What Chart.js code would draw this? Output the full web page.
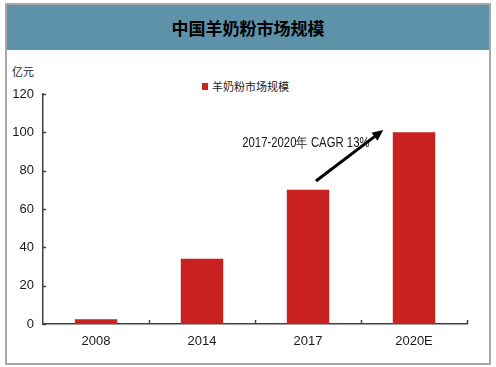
<!DOCTYPE html>
<html><head><meta charset="utf-8">
<script src="https://cdn.jsdelivr.net/npm/chart.js@4/dist/chart.umd.min.js"></script>
<style>
html,body{margin:0;padding:0;background:#fff;}
#wrap{position:relative;width:496px;height:367px;overflow:hidden;}
#frame{position:absolute;left:5px;top:3px;width:482px;height:358px;border:2px solid #A8A8A8;box-sizing:content-box;}
#titlebar{position:absolute;left:7px;top:5px;width:482px;height:45px;background:#5D92A9;display:flex;align-items:center;justify-content:center;font:bold 17px "Noto Sans CJK SC";color:#000;}
#unit{position:absolute;left:12px;top:63px;font:11px "Noto Sans CJK SC";color:#222;}
#legend{position:absolute;left:202px;top:78px;font:11px "Noto Sans CJK SC";color:#222;display:flex;align-items:center;}
#legend span.sw{display:inline-block;width:6px;height:7px;background:#C8211F;margin-right:4px;}
canvas{position:absolute;left:0;top:0;}
</style>
</head><body>
<div id="wrap">
<div id="frame"></div>
<div id="titlebar">中国羊奶粉市场规模</div>
<div id="unit">亿元</div>
<div id="legend"><span class="sw"></span>羊奶粉市场规模</div>
<canvas id="c" width="496" height="367"></canvas>
</div>
<script>
const categories = ['2008', '2014', '2017', '2020E'];
const marketSize = [2.5, 34, 70, 100];
const seriesName = '羊奶粉市场规模';
const annotationText = '2017-2020年 CAGR 13%';
const arrowFrom = [2.075, 74.6];
const arrowTo = [2.71, 101.2];
const annotationPos = [1.98, 94.5];

const FONT = '"Liberation Sans", Arial, sans-serif';

const decor = {
  id: 'decor',
  afterDatasetsDraw(chart) {
    const ctx = chart.ctx, x = chart.scales.x, y = chart.scales.y;
    const area = chart.chartArea;
    ctx.save();
    ctx.strokeStyle = '#404040';
    ctx.lineWidth = 1.5;
    y.ticks.forEach((t, i) => {
      const py = Math.round(y.getPixelForTick(i)) + 0.5;
      ctx.beginPath(); ctx.moveTo(area.left, py); ctx.lineTo(area.left + 3, py); ctx.stroke();
    });
    for (let i = 0; i < categories.length; i++) {
      const px = Math.round(x.getPixelForValue(i + 0.5)) + 0.5;
      ctx.beginPath(); ctx.moveTo(px, area.bottom); ctx.lineTo(px, area.bottom - 4); ctx.stroke();
    }
    const x1 = x.getPixelForValue(arrowFrom[0]), y1 = y.getPixelForValue(arrowFrom[1]);
    const x2 = x.getPixelForValue(arrowTo[0]), y2 = y.getPixelForValue(arrowTo[1]);
    const ang = Math.atan2(y2 - y1, x2 - x1);
    const hl = 11, hw = 5;
    const bx = x2 - hl * Math.cos(ang), by = y2 - hl * Math.sin(ang);
    ctx.strokeStyle = '#000'; ctx.fillStyle = '#000'; ctx.lineWidth = 3; ctx.lineCap = 'butt';
    ctx.beginPath(); ctx.moveTo(x1, y1); ctx.lineTo(bx, by); ctx.stroke();
    ctx.beginPath();
    ctx.moveTo(x2, y2);
    ctx.lineTo(bx + hw * Math.sin(ang), by - hw * Math.cos(ang));
    ctx.lineTo(bx - hw * Math.sin(ang), by + hw * Math.cos(ang));
    ctx.closePath(); ctx.fill();
    // annotation text, horizontally condensed like the original narrow face
    const tx = x.getPixelForValue(annotationPos[0]), ty = y.getPixelForValue(annotationPos[1]);
    ctx.translate(tx, ty);
    ctx.scale(0.81, 1);
    ctx.font = '14px ' + FONT;
    ctx.fillStyle = '#1a1a1a';
    ctx.textAlign = 'center'; ctx.textBaseline = 'middle';
    ctx.fillText(annotationText, 0, 0);
    ctx.restore();
  }
};

new Chart(document.getElementById('c'), {
  type: 'bar',
  data: {
    labels: categories,
    datasets: [{
      label: seriesName,
      data: marketSize,
      backgroundColor: '#C8211F',
      borderWidth: 0,
      barPercentage: 0.4,
      categoryPercentage: 1.0
    }]
  },
  options: {
    responsive: false,
    animation: false,
    devicePixelRatio: 1,
    layout: { padding: { left: 0, top: 94, right: 29, bottom: 0 } },
    plugins: { legend: { display: false }, title: { display: false }, tooltip: { enabled: false } },
    scales: {
      x: {
        grid: { display: false, drawTicks: false },
        border: { display: true, color: '#404040', width: 1.5 },
        ticks: { color: '#1a1a1a', font: { family: FONT, size: 13 }, padding: 10 },
        afterFit: s => { s.height = 43; }
      },
      y: {
        min: 0, max: 120,
        grid: { display: false, drawTicks: false },
        border: { display: true, color: '#404040', width: 1.5 },
        ticks: { stepSize: 20, color: '#1a1a1a', font: { family: FONT, size: 13 }, padding: 9 },
        afterFit: s => { s.width = 43; }
      }
    }
  },
  plugins: [decor]
});
</script>
</body></html>
